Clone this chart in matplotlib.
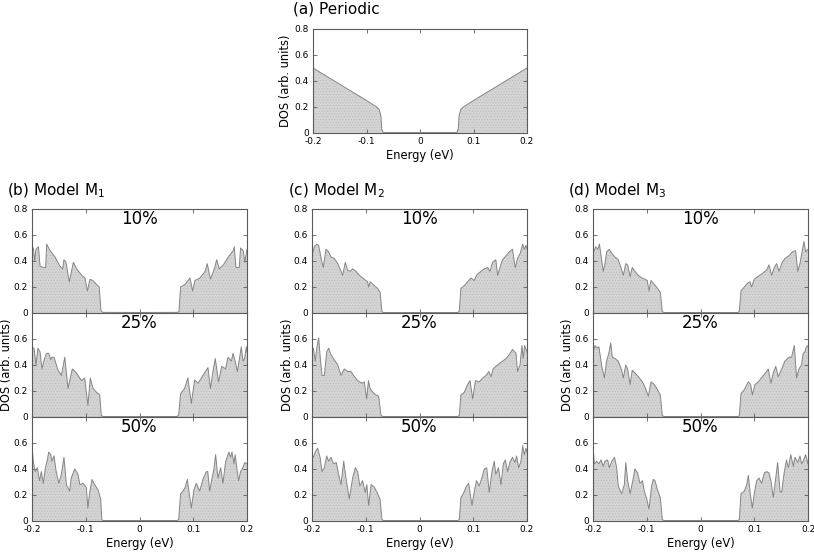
import matplotlib
matplotlib.use("Agg")
import matplotlib.pyplot as plt
import numpy as np

plt.rcParams['font.family'] = ['DejaVu Sans']
plt.rcParams['mathtext.fontset'] = 'dejavusans'
plt.rcParams['hatch.color'] = '#bcbcbc'
plt.rcParams['hatch.linewidth'] = 0.4

# ---------------- data (energy in eV, DOS in arb. units) ----------------
xticks = [-0.2, -0.1, 0.0, 0.1, 0.2]
xtick_labels = ['-0.2', '-0.1', '0', '0.1', '0.2']
yticks = [0.0, 0.2, 0.4, 0.6, 0.8]
ytick_labels = ['0', '0.2', '0.4', '0.6', '0.8']
percent_labels = ['10%', '25%', '50%']
model_titles = ['(b) Model M$_1$', '(c) Model M$_2$', '(d) Model M$_3$']

periodic = [(-0.2, 0.50), (-0.15, 0.375), (-0.1, 0.25), (-0.081, 0.20), (-0.076, 0.18),
            (-0.073, 0.13), (-0.0715, 0.03), (-0.069, 0.004), (0.0, 0.004), (0.069, 0.004),
            (0.0715, 0.03), (0.073, 0.13), (0.076, 0.18), (0.081, 0.20), (0.1, 0.25),
            (0.15, 0.375), (0.2, 0.50)]

m1_10 = [(-0.2, 0.51), (-0.1975, 0.50), (-0.195, 0.40), (-0.1926, 0.49), (-0.188, 0.51),
         (-0.185, 0.36), (-0.178, 0.35), (-0.1746, 0.35), (-0.1727, 0.53), (-0.1665, 0.48),
         (-0.157, 0.43), (-0.148, 0.36), (-0.143, 0.34), (-0.1405, 0.41), (-0.1368, 0.39),
         (-0.1306, 0.24), (-0.123, 0.39), (-0.117, 0.34), (-0.1076, 0.29), (-0.1014, 0.27),
         (-0.097, 0.17), (-0.092, 0.26), (-0.087, 0.25), (-0.080, 0.22), (-0.075, 0.20),
         (-0.0717, 0.02), (-0.0686, 0.005), (0.0, 0.004), (0.0705, 0.005),
         (0.0734, 0.01), (0.0765, 0.20), (0.0846, 0.22), (0.094, 0.27), (0.0988, 0.17),
         (0.1032, 0.25), (0.1125, 0.27), (0.122, 0.32), (0.126, 0.38), (0.132, 0.26),
         (0.140, 0.35), (0.1435, 0.41), (0.1484, 0.34), (0.156, 0.37), (0.165, 0.43),
         (0.1745, 0.48), (0.1763, 0.51), (0.1794, 0.35), (0.1856, 0.35), (0.188, 0.50),
         (0.193, 0.48), (0.196, 0.39), (0.200, 0.49)]

m1_25 = [(-0.2, 0.53), (-0.1963, 0.53), (-0.1926, 0.40), (-0.189, 0.53), (-0.185, 0.50),
         (-0.1814, 0.37), (-0.178, 0.43), (-0.1733, 0.49), (-0.169, 0.49), (-0.165, 0.44),
         (-0.163, 0.46), (-0.159, 0.46), (-0.1516, 0.36), (-0.1454, 0.32), (-0.139, 0.46),
         (-0.133, 0.22), (-0.125, 0.37), (-0.1175, 0.34), (-0.108, 0.28), (-0.102, 0.30),
         (-0.096, 0.09), (-0.0915, 0.30), (-0.0865, 0.22), (-0.080, 0.19), (-0.074, 0.17),
         (-0.071, 0.01), (-0.068, 0.004), (0.0, 0.004), (0.070, 0.004),
         (0.0728, 0.015), (0.0765, 0.18), (0.084, 0.22), (0.090, 0.30), (0.0964, 0.105),
         (0.1026, 0.285), (0.109, 0.26), (0.118, 0.32), (0.1274, 0.38), (0.132, 0.22),
         (0.1367, 0.35), (0.141, 0.45), (0.147, 0.27), (0.153, 0.39), (0.160, 0.37),
         (0.1646, 0.46), (0.171, 0.43), (0.174, 0.49), (0.178, 0.43), (0.182, 0.35),
         (0.186, 0.45), (0.1894, 0.54), (0.1925, 0.43), (0.1956, 0.45), (0.1987, 0.54),
         (0.2, 0.50)]

m1_50 = [(-0.2, 0.59), (-0.1975, 0.45), (-0.194, 0.38), (-0.190, 0.41), (-0.186, 0.31),
         (-0.1826, 0.38), (-0.179, 0.29), (-0.175, 0.41), (-0.1715, 0.47), (-0.169, 0.53),
         (-0.165, 0.51), (-0.163, 0.46), (-0.159, 0.50), (-0.155, 0.38), (-0.150, 0.29),
         (-0.1454, 0.36), (-0.1405, 0.49), (-0.136, 0.28), (-0.130, 0.23), (-0.127, 0.33),
         (-0.1206, 0.40), (-0.1144, 0.36), (-0.111, 0.28), (-0.105, 0.29), (-0.099, 0.26),
         (-0.096, 0.10), (-0.093, 0.21), (-0.0884, 0.32), (-0.0834, 0.28), (-0.0772, 0.24),
         (-0.0723, 0.17), (-0.070, 0.01), (-0.068, 0.004), (0.0, 0.004), (0.070, 0.004),
         (0.0728, 0.01), (0.0765, 0.21), (0.081, 0.23), (0.085, 0.26), (0.089, 0.32),
         (0.0933, 0.19), (0.0964, 0.10), (0.1013, 0.24), (0.1057, 0.29), (0.112, 0.23),
         (0.118, 0.32), (0.1243, 0.38), (0.127, 0.38), (0.1305, 0.23), (0.135, 0.33),
         (0.1385, 0.40), (0.1416, 0.51), (0.146, 0.33), (0.151, 0.41), (0.1553, 0.29),
         (0.160, 0.45), (0.163, 0.49), (0.1664, 0.53), (0.1695, 0.49), (0.172, 0.53),
         (0.1757, 0.44), (0.178, 0.51), (0.182, 0.38), (0.1844, 0.31), (0.188, 0.38),
         (0.1925, 0.41), (0.1956, 0.45), (0.2, 0.44)]

m2_10 = [(-0.2, 0.44), (-0.1957, 0.51), (-0.191, 0.53), (-0.1876, 0.52), (-0.183, 0.42),
         (-0.179, 0.35), (-0.174, 0.49), (-0.169, 0.47), (-0.1647, 0.43), (-0.1585, 0.42),
         (-0.152, 0.38), (-0.146, 0.32), (-0.143, 0.29), (-0.138, 0.39), (-0.1337, 0.33),
         (-0.129, 0.32), (-0.1244, 0.34), (-0.118, 0.32), (-0.112, 0.29), (-0.1027, 0.26),
         (-0.0965, 0.24), (-0.0946, 0.20), (-0.0915, 0.24), (-0.084, 0.21), (-0.078, 0.19),
         (-0.0735, 0.16), (-0.0698, 0.01), (-0.067, 0.004), (0.0, 0.004), (0.071, 0.004),
         (0.074, 0.013), (0.077, 0.19), (0.0833, 0.21), (0.0895, 0.24), (0.0957, 0.27),
         (0.102, 0.25), (0.106, 0.29), (0.114, 0.32), (0.1205, 0.34), (0.127, 0.35),
         (0.131, 0.32), (0.136, 0.39), (0.142, 0.41), (0.1453, 0.29), (0.1497, 0.35),
         (0.1546, 0.41), (0.161, 0.44), (0.167, 0.47), (0.173, 0.49), (0.178, 0.35),
         (0.1825, 0.42), (0.1875, 0.46), (0.192, 0.53), (0.195, 0.49), (0.198, 0.52),
         (0.2, 0.49)]

m2_25 = [(-0.2, 0.50), (-0.1975, 0.53), (-0.194, 0.43), (-0.1907, 0.54), (-0.1876, 0.61),
         (-0.1845, 0.45), (-0.1814, 0.32), (-0.177, 0.32), (-0.1727, 0.50), (-0.169, 0.53),
         (-0.1647, 0.48), (-0.1585, 0.44), (-0.152, 0.40), (-0.146, 0.32), (-0.140, 0.37),
         (-0.1337, 0.35), (-0.1275, 0.35), (-0.121, 0.31), (-0.115, 0.28), (-0.107, 0.26),
         (-0.1027, 0.27), (-0.0983, 0.14), (-0.095, 0.28), (-0.092, 0.22), (-0.087, 0.19),
         (-0.081, 0.17), (-0.076, 0.16), (-0.0717, 0.015), (-0.069, 0.004), (0.0, 0.004),
         (0.071, 0.004), (0.074, 0.01), (0.077, 0.17), (0.0833, 0.19), (0.0895, 0.25),
         (0.094, 0.28), (0.099, 0.14), (0.104, 0.28), (0.111, 0.27), (0.1175, 0.30),
         (0.124, 0.32), (0.129, 0.35), (0.133, 0.31), (0.137, 0.37), (0.142, 0.39),
         (0.1485, 0.41), (0.1546, 0.43), (0.161, 0.45), (0.167, 0.48), (0.173, 0.52),
         (0.1795, 0.49), (0.1825, 0.35), (0.187, 0.40), (0.1906, 0.55), (0.193, 0.45),
         (0.1956, 0.55), (0.2, 0.50)]

m2_50 = [(-0.2, 0.51), (-0.1975, 0.49), (-0.194, 0.53), (-0.1895, 0.56), (-0.185, 0.49),
         (-0.1814, 0.38), (-0.177, 0.41), (-0.1727, 0.50), (-0.169, 0.46), (-0.1647, 0.49),
         (-0.160, 0.44), (-0.155, 0.45), (-0.150, 0.35), (-0.146, 0.28), (-0.141, 0.46),
         (-0.1368, 0.33), (-0.1306, 0.17), (-0.1244, 0.33), (-0.1194, 0.41), (-0.115, 0.38),
         (-0.111, 0.27), (-0.1058, 0.31), (-0.101, 0.22), (-0.098, 0.28), (-0.0946, 0.12),
         (-0.090, 0.28), (-0.084, 0.26), (-0.078, 0.21), (-0.0735, 0.17), (-0.0698, 0.01),
         (-0.067, 0.004), (0.0, 0.004), (0.071, 0.004), (0.074, 0.01), (0.077, 0.18),
         (0.0815, 0.21), (0.0864, 0.26), (0.0914, 0.29), (0.094, 0.22), (0.0976, 0.12),
         (0.102, 0.23), (0.106, 0.31), (0.111, 0.27), (0.116, 0.33), (0.1205, 0.40),
         (0.125, 0.41), (0.1298, 0.22), (0.1348, 0.38), (0.139, 0.46), (0.142, 0.36),
         (0.147, 0.41), (0.1515, 0.28), (0.156, 0.44), (0.1596, 0.47), (0.164, 0.38),
         (0.168, 0.45), (0.173, 0.49), (0.1776, 0.45), (0.1807, 0.50), (0.1845, 0.41),
         (0.1888, 0.46), (0.192, 0.58), (0.195, 0.51), (0.198, 0.56), (0.2, 0.53)]

m3_10 = [(-0.2, 0.47), (-0.1975, 0.48), (-0.195, 0.51), (-0.191, 0.49), (-0.188, 0.53),
         (-0.185, 0.44), (-0.181, 0.32), (-0.1777, 0.38), (-0.1746, 0.47), (-0.170, 0.49),
         (-0.165, 0.46), (-0.159, 0.43), (-0.153, 0.41), (-0.148, 0.35), (-0.1436, 0.29),
         (-0.139, 0.38), (-0.1355, 0.37), (-0.131, 0.28), (-0.127, 0.35), (-0.122, 0.32),
         (-0.1157, 0.29), (-0.1095, 0.27), (-0.1033, 0.26), (-0.099, 0.25), (-0.0958, 0.17),
         (-0.092, 0.25), (-0.086, 0.22), (-0.080, 0.19), (-0.0748, 0.16), (-0.071, 0.01),
         (-0.068, 0.004), (0.0, 0.004), (0.070, 0.004), (0.0722, 0.013), (0.0753, 0.17),
         (0.0815, 0.20), (0.0877, 0.23), (0.092, 0.24), (0.095, 0.20), (0.100, 0.26),
         (0.1063, 0.28), (0.1137, 0.30), (0.123, 0.33), (0.1274, 0.37), (0.1323, 0.29),
         (0.1373, 0.35), (0.1416, 0.38), (0.146, 0.32), (0.151, 0.38), (0.157, 0.42),
         (0.1646, 0.44), (0.1708, 0.47), (0.177, 0.48), (0.181, 0.32), (0.185, 0.38),
         (0.1894, 0.48), (0.1925, 0.55), (0.1956, 0.47), (0.2, 0.49)]

m3_25 = [(-0.2, 0.50), (-0.1963, 0.55), (-0.1926, 0.53), (-0.189, 0.54), (-0.184, 0.40),
         (-0.179, 0.30), (-0.1746, 0.43), (-0.170, 0.50), (-0.167, 0.57), (-0.164, 0.46),
         (-0.159, 0.45), (-0.153, 0.43), (-0.1467, 0.36), (-0.1436, 0.30), (-0.139, 0.40),
         (-0.1355, 0.37), (-0.131, 0.25), (-0.127, 0.36), (-0.122, 0.34), (-0.1157, 0.31),
         (-0.108, 0.27), (-0.1033, 0.23), (-0.097, 0.16), (-0.092, 0.27), (-0.086, 0.25),
         (-0.080, 0.21), (-0.0748, 0.17), (-0.071, 0.01), (-0.068, 0.004), (0.0, 0.004),
         (0.070, 0.004), (0.0722, 0.01), (0.0753, 0.18), (0.0815, 0.21), (0.089, 0.27),
         (0.0933, 0.25), (0.0964, 0.17), (0.1013, 0.25), (0.1075, 0.27), (0.115, 0.31),
         (0.123, 0.35), (0.126, 0.37), (0.131, 0.26), (0.1354, 0.34), (0.140, 0.39),
         (0.1447, 0.31), (0.151, 0.37), (0.157, 0.43), (0.1646, 0.46), (0.1695, 0.46),
         (0.1745, 0.55), (0.1788, 0.30), (0.183, 0.37), (0.188, 0.40), (0.191, 0.49),
         (0.194, 0.50), (0.197, 0.54), (0.2, 0.55)]

m3_50 = [(-0.2, 0.58), (-0.1975, 0.44), (-0.193, 0.46), (-0.189, 0.44), (-0.185, 0.47),
         (-0.181, 0.42), (-0.1777, 0.46), (-0.1727, 0.47), (-0.1696, 0.41), (-0.165, 0.46),
         (-0.160, 0.49), (-0.156, 0.41), (-0.153, 0.27), (-0.1467, 0.21), (-0.1417, 0.28),
         (-0.139, 0.45), (-0.1355, 0.31), (-0.131, 0.21), (-0.126, 0.31), (-0.122, 0.40),
         (-0.117, 0.37), (-0.1126, 0.29), (-0.108, 0.31), (-0.1045, 0.23), (-0.100, 0.17),
         (-0.0958, 0.09), (-0.091, 0.27), (-0.0878, 0.32), (-0.0847, 0.31), (-0.080, 0.24),
         (-0.0748, 0.18), (-0.071, 0.01), (-0.068, 0.004), (0.0, 0.004), (0.070, 0.004),
         (0.0722, 0.01), (0.0753, 0.21), (0.0815, 0.23), (0.086, 0.28), (0.089, 0.35),
         (0.0926, 0.21), (0.0964, 0.10), (0.100, 0.21), (0.1045, 0.31), (0.1088, 0.33),
         (0.1137, 0.29), (0.1187, 0.37), (0.123, 0.38), (0.1274, 0.37), (0.131, 0.31),
         (0.1354, 0.18), (0.140, 0.33), (0.1435, 0.45), (0.148, 0.23), (0.151, 0.22),
         (0.156, 0.38), (0.160, 0.47), (0.1634, 0.41), (0.168, 0.51), (0.1727, 0.42),
         (0.1757, 0.49), (0.181, 0.45), (0.185, 0.50), (0.188, 0.44), (0.191, 0.46),
         (0.1956, 0.51), (0.2, 0.44)]

model_data = [[m1_10, m1_25, m1_50], [m2_10, m2_25, m2_50], [m3_10, m3_25, m3_50]]

# ---------------- styling / layout ----------------
W, H = 814, 554
fig = plt.figure(figsize=(W / 100, H / 100), dpi=100)

FILL = '#d4d4d4'
LINE = '#858585'
SPINE = '#5a5a5a'
TICKFS = 6.5
LABELFS = 8.3


def px_axes(x0, y0, x1, y1):
    return fig.add_axes([x0 / W, 1 - y1 / H, (x1 - x0) / W, (y1 - y0) / H])


def style(ax, show_x, show_ytop):
    ax.set_xlim(-0.2, 0.2)
    ax.set_ylim(0, 0.8)
    ax.set_xticks(xticks)
    ax.set_yticks(yticks)
    ax.set_xticklabels(xtick_labels if show_x else [''] * len(xticks))
    ylabs = list(ytick_labels)
    if not show_ytop:
        ylabs[-1] = ''
    ax.set_yticklabels(ylabs)
    ax.tick_params(direction='in', length=3, width=0.6, color=SPINE,
                   top=True, right=True, labelsize=TICKFS, pad=3)
    for s in ax.spines.values():
        s.set_color(SPINE)
        s.set_linewidth(0.8)


def draw(ax, pts):
    e = [p[0] for p in pts]
    d = [p[1] for p in pts]
    ax.fill_between(e, d, 0, facecolor=FILL, edgecolor='none', hatch='......',
                    linewidth=0, zorder=1)
    ax.plot(e, d, color=LINE, lw=0.7, zorder=2)


def ylab(xc, yc):
    fig.text(xc / W, 1 - yc / H, 'DOS (arb. units)', fontsize=LABELFS,
             rotation=90, ha='center', va='center')


# (a) periodic
axa = px_axes(313, 29, 527, 133)
draw(axa, periodic)
style(axa, True, True)
axa.set_xlabel('Energy (eV)', fontsize=LABELFS, labelpad=2)
ylab(286, 81)
fig.text(293 / W, 1 - 13 / H, '(a) Periodic', fontsize=11, ha='left', va='baseline')

col_left = [32, 312, 593]
col_w = 215
rows = [(209, 313), (313, 417), (417, 521)]
title_x = [7, 288, 568]
ylab_x = [7, 287, 567]

for c in range(3):
    x0 = col_left[c]
    for r in range(3):
        y0, y1 = rows[r]
        ax = px_axes(x0, y0, x0 + col_w, y1)
        draw(ax, model_data[c][r])
        style(ax, r == 2, r == 0)
        ax.text(0.5, 0.905, percent_labels[r], transform=ax.transAxes,
                ha='center', va='center', fontsize=12)
        if r == 2:
            ax.set_xlabel('Energy (eV)', fontsize=LABELFS, labelpad=2)
    ylab(ylab_x[c], 365)
    fig.text(title_x[c] / W, 1 - 195 / H, model_titles[c], fontsize=11,
             ha='left', va='baseline')

fig.savefig('out.png', dpi=100)
